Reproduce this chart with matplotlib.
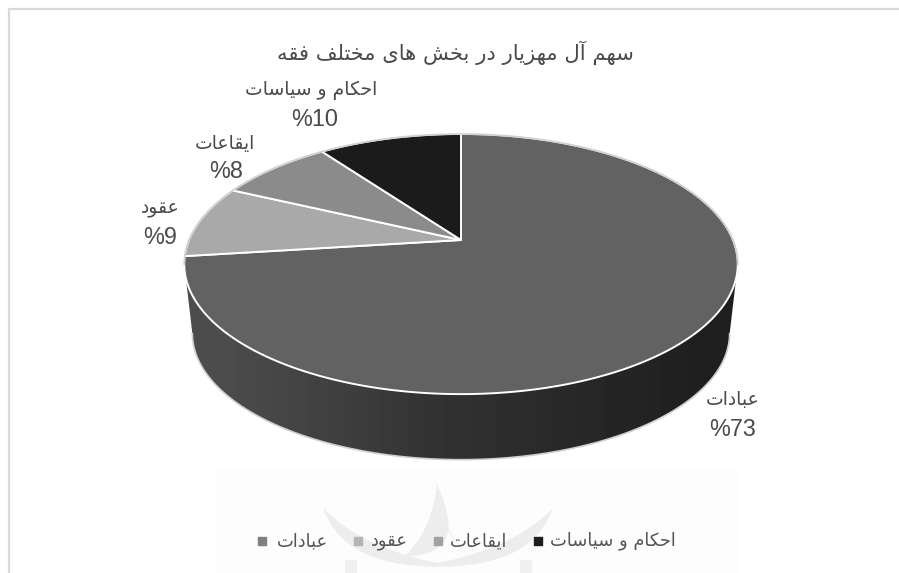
import numpy as np
import matplotlib
matplotlib.use('Agg')
import matplotlib.pyplot as plt
from matplotlib.patches import Polygon, PathPatch
from matplotlib.path import Path

title = 'سهم آل مهزیار در بخش های مختلف فقه'
categories = ['عبادات', 'عقود', 'ایقاعات', 'احکام و سیاسات']
shares = [73, 9, 8, 10]
slice_colors = ['#626262', '#a9a9a9', '#8b8b8b', '#1b1b1b']
legend_colors = ['#808080', '#b4b4b4', '#a2a2a2', '#1e1e1e']
label_pos = [(733, 399.5), (160, 208.5), (225, 143.5), (311, 90.5)]
value_pos = [(733, 430), (160, 238), (226, 172), (315, 120)]
legend_square_x = [262, 358, 438, 538]
legend_text_right = [328, 408, 507, 676]

# isolated, final, initial, medial (matplotlib does no arabic shaping)
FORMS = {
    'ا': 'ﺍﺎ', 'آ': 'ﺁﺂ', 'د': 'ﺩﺪ', 'ر': 'ﺭﺮ', 'ز': 'ﺯﺰ', 'و': 'ﻭﻮ',
    'ب': 'ﺏﺐﺑﺒ', 'ت': 'ﺕﺖﺗﺘ', 'ح': 'ﺡﺢﺣﺤ', 'خ': 'ﺥﺦﺧﺨ', 'س': 'ﺱﺲﺳﺴ',
    'ش': 'ﺵﺶﺷﺸ', 'ع': 'ﻉﻊﻋﻌ', 'ف': 'ﻑﻒﻓﻔ', 'ق': 'ﻕﻖﻗﻘ', 'ک': 'ﮎﮏﮐﮑ',
    'ل': 'ﻝﻞﻟﻠ', 'م': 'ﻡﻢﻣﻤ', 'ه': 'ﻩﻪﻫﻬ', 'ی': 'ﯼﯽﯾﯿ',
}


def shape(text):
    out = []
    for i, ch in enumerate(text):
        if ch not in FORMS:
            out.append(ch)
            continue
        prev = text[i - 1] if i > 0 else ' '
        nxt = text[i + 1] if i + 1 < len(text) else ' '
        joins_prev = prev in FORMS and len(FORMS[prev]) == 4
        joins_next = nxt in FORMS and len(FORMS[ch]) == 4
        if joins_prev and joins_next:
            out.append(FORMS[ch][3])
        elif joins_prev:
            out.append(FORMS[ch][1])
        elif joins_next:
            out.append(FORMS[ch][2])
        else:
            out.append(FORMS[ch][0])
    return ''.join(reversed(out))


def project(theta, cx, cy, a, b, k=0.185):
    # clockwise from top, circle seen in perspective
    u, v = np.sin(theta), np.cos(theta)
    w = 1 + k * v
    return cx + a * u / w, cy - b * v / w


def curved(p0, c1, p1, c2, color='#ededed'):
    # two quadratic edges, tip to tip
    verts = [p0, c1, p1, c2, p0, p0]
    codes = [Path.MOVETO, Path.CURVE3, Path.CURVE3, Path.CURVE3, Path.CURVE3, Path.CLOSEPOLY]
    ax.add_patch(PathPatch(Path(verts, codes), fc=color, ec='none', zorder=1))


TOP = (461, 240, 272, 125.6)
BOTTOM = (461, 310, 264, 122)
AR = ['DejaVu Sans']
NUM = ['Liberation Sans', 'DejaVu Sans']
TEXT = '#4a4a4a'

fig = plt.figure(figsize=(8.99, 5.73), dpi=100)
ax = fig.add_axes([0, 0, 1, 1])
ax.set_xlim(0, 899)
ax.set_ylim(573, 0)
ax.axis('off')

# frame of the chart
ax.plot([8.5, 8.5, 899], [573, 8.5, 8.5], color='#d9d9d9', lw=1.6, zorder=1)

# faint watermark behind the legend
ax.add_patch(Polygon([(215, 470), (740, 470), (740, 573), (215, 573)], closed=True,
                     fc='#fdfdfd', ec='none', zorder=0.5))
curved((323, 508), (345, 572), (455, 566), (365, 552))
curved((553, 508), (531, 572), (421, 566), (511, 552))
curved((437, 485), (431, 532), (405, 556), (471, 556))
curved((470, 556), (441, 532), (437, 485), (437, 530))
for x0 in (345, 520):
    ax.add_patch(Polygon([(x0, 560), (x0 + 12, 560), (x0 + 12, 573), (x0, 573)],
                         closed=True, fc='#f0f0f0', ec='none', zorder=1))

# side wall, dark towards the right
t_front = np.linspace(np.pi * 0.56, np.pi * 1.44, 200)
x_top, y_top = project(t_front, *TOP)
x_bot, y_bot = project(t_front, *BOTTOM)
wall = Polygon(np.column_stack([np.r_[x_top, x_bot[::-1]], np.r_[y_top, y_bot[::-1]]]),
               closed=True, fc='none', ec='none', transform=ax.transData)
ax.add_patch(wall)
shade = [[0.30, 0.27, 0.24, 0.20, 0.18, 0.16, 0.14, 0.12]]
img = ax.imshow(shade, extent=(184, 739, 460, 240), cmap='gray', vmin=0, vmax=1,
                aspect='auto', interpolation='bilinear', zorder=2)
img.set_clip_path(wall)
ax.set_xlim(0, 899)
ax.set_ylim(573, 0)
ax.plot(x_bot, y_bot, color='#cfcfcf', lw=1.2, zorder=3)

# top face, slices clockwise from twelve o'clock
edges = np.cumsum([0] + shares) / sum(shares) * 2 * np.pi
for i in range(len(shares)):
    t = np.linspace(edges[i], edges[i + 1], 200)
    xs, ys = project(t, *TOP)
    pts = np.column_stack([np.r_[TOP[0], xs], np.r_[TOP[1], ys]])
    ax.add_patch(Polygon(pts, closed=True, fc=slice_colors[i], ec='white', lw=1.4,
                         joinstyle='miter', zorder=4))

# back part of the rim is grey, not white
t_back = np.linspace(np.pi * 1.44, np.pi * 2.56, 200)
x_rim, y_rim = project(t_back, *TOP)
ax.plot(x_rim, y_rim, color='#cfcfcf', lw=1.2, zorder=5)

ax.text(455, 53, shape(title), ha='center', va='center', fontsize=15.2,
        color=TEXT, family=AR, zorder=6)

for i, cat in enumerate(categories):
    ax.text(*label_pos[i], shape(cat), ha='center', va='center', fontsize=13.5,
            color=TEXT, family=AR, zorder=6)
    ax.text(*value_pos[i], '%' + str(shares[i]), ha='center', va='center', fontsize=16.8,
            color=TEXT, family=NUM, zorder=6)
    ax.scatter(legend_square_x[i], 541, marker='s', s=26, color=legend_colors[i], zorder=6)
    ax.text(legend_text_right[i], 541, shape(cat), ha='right', va='center', fontsize=12.9,
            color='#555555', family=AR, zorder=6)

fig.savefig('out.png', dpi=100)
